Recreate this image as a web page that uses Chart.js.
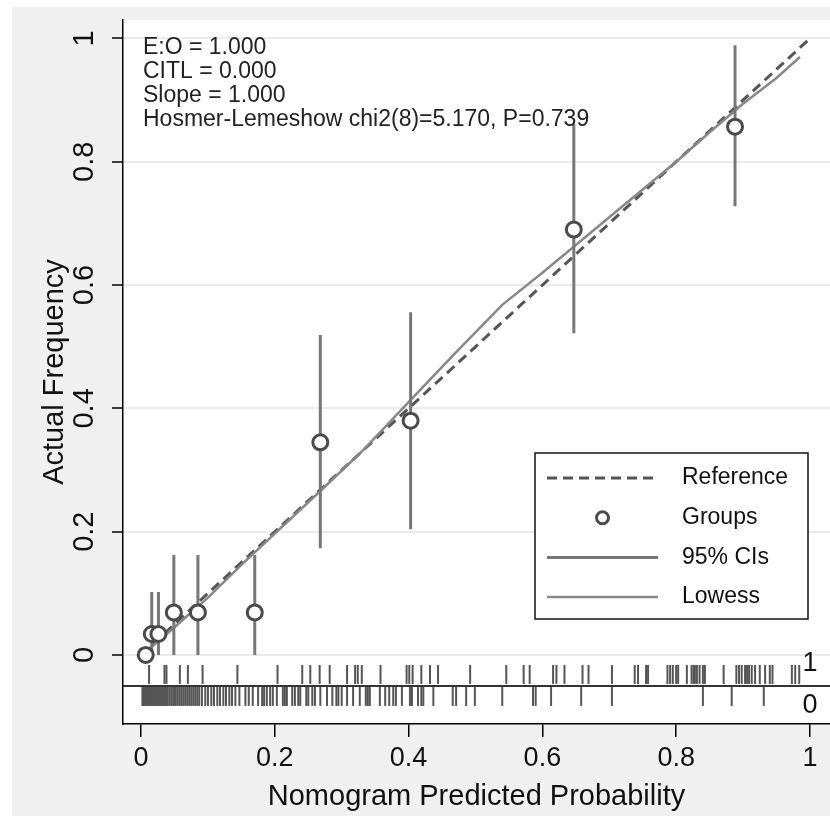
<!DOCTYPE html>
<html lang="en">
<head>
<meta charset="UTF-8" />
<title>Calibration plot</title>
<script src="https://cdn.jsdelivr.net/npm/chart.js"></script>
<style>
  html, body { margin: 0; padding: 0; background: #fff; }
  #wrap { width: 830px; height: 816px; }
</style>
</head>
<body>
<div id="wrap"><canvas id="calib" width="830" height="816"></canvas></div>
<script>
// grouped observed vs predicted, with 95% CIs
const groupPred = [0.007, 0.016, 0.026, 0.049, 0.085, 0.170, 0.268, 0.403, 0.647, 0.888];
const groupObs  = [0.000, 0.034, 0.034, 0.069, 0.069, 0.069, 0.345, 0.380, 0.690, 0.857];
const ciLower   = [0.000, 0.000, 0.000, 0.000, 0.000, 0.000, 0.173, 0.204, 0.522, 0.728];
const ciUpper   = [0.000, 0.102, 0.102, 0.162, 0.162, 0.162, 0.519, 0.556, 0.861, 0.989];

// lowess smoother
const lowessX = [0.006, 0.05, 0.10, 0.15, 0.20, 0.27, 0.33, 0.40, 0.47, 0.54, 0.60, 0.65, 0.70, 0.75, 0.80, 0.85, 0.90, 0.95, 0.985];
const lowessY = [0.004, 0.045, 0.093, 0.146, 0.197, 0.268, 0.330, 0.410, 0.490, 0.568, 0.620, 0.665, 0.710, 0.755, 0.800, 0.848, 0.894, 0.936, 0.970];

// reference diagonal
const refX = [0, 1];
const refY = [0, 1];

// rug: predicted probabilities of outcome = 1 and outcome = 0
const rugOnes = [0.012, 0.035, 0.038, 0.058, 0.070, 0.092, 0.144, 0.204, 0.241, 0.253, 0.267, 0.282, 0.308, 0.320,
  0.324, 0.330, 0.358, 0.397, 0.401, 0.406, 0.419, 0.432, 0.444, 0.492, 0.546, 0.572, 0.581, 0.616, 0.621, 0.633,
  0.660, 0.669, 0.704, 0.738, 0.743, 0.755, 0.758, 0.787, 0.791, 0.795, 0.800, 0.803, 0.816, 0.823, 0.826, 0.828,
  0.831, 0.835, 0.840, 0.843, 0.871, 0.890, 0.894, 0.898, 0.903, 0.906, 0.909, 0.913, 0.918, 0.925, 0.933, 0.940,
  0.944, 0.973, 0.978, 0.984];
const rugZeros = [0.002, 0.003, 0.005, 0.006, 0.008, 0.009, 0.011, 0.012, 0.014, 0.015, 0.016, 0.018, 0.019, 0.021,
  0.022, 0.024, 0.025, 0.027, 0.028, 0.030, 0.031, 0.033, 0.034, 0.036, 0.037, 0.039, 0.040, 0.043, 0.046, 0.049,
  0.051, 0.054, 0.057, 0.060, 0.063, 0.066, 0.069, 0.072, 0.075, 0.078, 0.081, 0.084, 0.087, 0.091, 0.096, 0.100,
  0.105, 0.109, 0.114, 0.118, 0.123, 0.127, 0.132, 0.136, 0.141, 0.147, 0.156, 0.161, 0.167, 0.175, 0.181, 0.184,
  0.188, 0.193, 0.197, 0.203, 0.212, 0.215, 0.218, 0.226, 0.230, 0.235, 0.238, 0.247, 0.250, 0.256, 0.260, 0.268,
  0.278, 0.286, 0.292, 0.295, 0.300, 0.308, 0.317, 0.327, 0.336, 0.339, 0.342, 0.357, 0.365, 0.371, 0.377, 0.381,
  0.390, 0.402, 0.405, 0.414, 0.419, 0.422, 0.437, 0.466, 0.471, 0.486, 0.499, 0.540, 0.586, 0.590, 0.613, 0.658,
  0.704, 0.840, 0.883, 0.931];

const xTicks = [0, 0.2, 0.4, 0.6, 0.8, 1];
const yTicks = [0, 0.2, 0.4, 0.6, 0.8, 1];
const statsLines = ['E:O = 1.000', 'CITL = 0.000', 'Slope = 1.000', 'Hosmer-Lemeshow chi2(8)=5.170, P=0.739'];
const legendLabels = ['Reference', 'Groups', '95% CIs', 'Lowess'];
const rugLabels = ['1', '0'];

const FONT = "'Liberation Sans', Arial, sans-serif";
const RUG_ONE_Y = -0.0316, RUG_ZERO_Y = -0.0673, RUG_BASE_Y = -0.0502;
const X_MIN = -0.027, X_MAX = 1.03;

// CI segments, broken with null so each group gets its own vertical bar
const ciData = [];
groupPred.forEach((x, i) => {
  if (ciUpper[i] > ciLower[i]) {
    ciData.push({x, y: ciLower[i]}, {x, y: ciUpper[i]}, {x, y: null});
  }
});

const bgPlugin = {
  id: 'bg',
  beforeDraw(chart) {
    const {ctx, chartArea: a} = chart;
    ctx.save();
    ctx.fillStyle = '#fff';
    ctx.fillRect(0, 0, chart.width, chart.height);
    ctx.fillStyle = '#f0f0f0';
    ctx.fillRect(12, 7, chart.width - 12, chart.height - 7);
    ctx.fillStyle = '#fff';
    ctx.fillRect(a.left, a.top, a.right - a.left, a.bottom - a.top);
    ctx.restore();
  }
};

const annotPlugin = {
  id: 'annot',
  afterDatasetsDraw(chart) {
    const {ctx, chartArea: a, scales: {y}} = chart;
    ctx.save();
    // stats text
    ctx.font = '23px ' + FONT;
    ctx.fillStyle = '#222';
    ctx.textBaseline = 'middle';
    ctx.textAlign = 'left';
    statsLines.forEach((t, i) => ctx.fillText(t, a.left + 20, a.top + 28 + i * 23.8));

    // rug labels at right
    ctx.font = '27px ' + FONT;
    ctx.fillStyle = '#111';
    ctx.textAlign = 'center';
    ctx.fillText(rugLabels[0], a.right - 20, y.getPixelForValue(RUG_ONE_Y) - 11);
    ctx.fillText(rugLabels[1], a.right - 20, y.getPixelForValue(RUG_ZERO_Y) + 9);

    // legend box
    const bx = a.right - 295, by = a.top + 433, bw = 273, bh = 166;
    ctx.fillStyle = '#fff';
    ctx.fillRect(bx, by, bw, bh);
    ctx.strokeStyle = '#111';
    ctx.lineWidth = 1.5;
    ctx.strokeRect(bx, by, bw, bh);
    const ds = chart.data.datasets;
    [ds[0], ds[1], ds[2], ds[3]].forEach((d, i) => {
      const ry = by + 25 + i * 39.7;
      const x0 = bx + 12, x1 = bx + 123;
      ctx.save();
      if (d.label === 'Groups') {
        ctx.beginPath();
        ctx.arc((x0 + x1) / 2, ry, 6, 0, Math.PI * 2);
        ctx.strokeStyle = d.pointBorderColor;
        ctx.lineWidth = d.pointBorderWidth;
        ctx.stroke();
      } else {
        ctx.beginPath();
        ctx.setLineDash(d.borderDash || []);
        ctx.strokeStyle = d.borderColor;
        ctx.lineWidth = d.borderWidth;
        ctx.moveTo(x0, ry);
        ctx.lineTo(x1, ry);
        ctx.stroke();
      }
      ctx.restore();
      ctx.font = '23px ' + FONT;
      ctx.fillStyle = '#111';
      ctx.textAlign = 'left';
      ctx.textBaseline = 'middle';
      ctx.fillText(legendLabels[i], bx + 147, ry);
    });
    ctx.restore();
  }
};

new Chart(document.getElementById('calib'), {
  type: 'scatter',
  data: {
    datasets: [
      {
        label: legendLabels[0],
        data: refX.map((x, i) => ({x, y: refY[i]})),
        showLine: true, borderColor: '#555', borderWidth: 3, borderDash: [10, 6],
        pointRadius: 0, order: 3
      },
      {
        label: legendLabels[1],
        data: groupPred.map((x, i) => ({x, y: groupObs[i]})),
        showLine: false, pointRadius: 7.5, pointBorderWidth: 3,
        pointBorderColor: '#4a4a4a', pointBackgroundColor: '#fff', order: 0
      },
      {
        label: legendLabels[2],
        data: ciData,
        showLine: true, spanGaps: false, borderColor: '#777', borderWidth: 3,
        pointRadius: 0, order: 1
      },
      {
        label: legendLabels[3],
        data: lowessX.map((x, i) => ({x, y: lowessY[i]})),
        showLine: true, borderColor: '#888', borderWidth: 2.5, pointRadius: 0, order: 2
      },
      {
        label: 'rug base',
        data: [{x: X_MIN, y: RUG_BASE_Y}, {x: X_MAX, y: RUG_BASE_Y}],
        showLine: true, borderColor: '#333', borderWidth: 2, pointRadius: 0, order: 5
      },
      {
        label: 'rug 1',
        data: rugOnes.map(x => ({x, y: RUG_ONE_Y})),
        pointStyle: 'line', pointRotation: 90, pointRadius: 9.5,
        pointBorderWidth: 2, pointBorderColor: '#555', order: 4
      },
      {
        label: 'rug 0',
        data: rugZeros.map(x => ({x, y: RUG_ZERO_Y})),
        pointStyle: 'line', pointRotation: 90, pointRadius: 9.5,
        pointBorderWidth: 2, pointBorderColor: '#555', order: 4
      }
    ]
  },
  options: {
    responsive: false,
    animation: false,
    devicePixelRatio: 1,
    events: [],
    layout: { autoPadding: false, padding: { top: 20, right: 0, bottom: 0, left: 0 } },
    plugins: { legend: { display: false }, tooltip: { enabled: false } },
    scales: {
      x: {
        type: 'linear', min: X_MIN, max: X_MAX,
        afterBuildTicks: ax => { ax.ticks = xTicks.map(v => ({value: v})); },
        afterFit: ax => { ax.height = 92; ax.paddingLeft = 0; ax.paddingRight = 0; },
        grid: { drawOnChartArea: false, color: '#000', lineWidth: 1.5, tickLength: 13 },
        border: { color: '#000', width: 1.5 },
        ticks: { font: { size: 27, family: FONT }, color: '#111', padding: 5, maxRotation: 0,
                 callback: v => String(v) },
        title: { display: true, text: 'Nomogram Predicted Probability', color: '#111',
                 font: { size: 29, family: FONT }, padding: { top: 0, bottom: 2 } }
      },
      y: {
        type: 'linear', min: -0.112, max: 1.03,
        afterBuildTicks: ax => { ax.ticks = yTicks.map(v => ({value: v})); },
        afterFit: ax => { ax.width = 123; ax.paddingTop = 0; ax.paddingBottom = 0; },
        grid: { color: '#ebebeb', lineWidth: 2, tickColor: '#000', tickWidth: 1.5, tickLength: 11 },
        border: { color: '#000', width: 1.5 },
        ticks: { font: { size: 29, family: FONT }, color: '#111', padding: 7,
                 minRotation: 90, maxRotation: 90, crossAlign: 'center',
                 callback: v => String(v) },
        title: { display: true, text: 'Actual Frequency', color: '#111',
                 font: { size: 29, family: FONT }, padding: { top: 38, bottom: 0 } }
      }
    }
  },
  plugins: [bgPlugin, annotPlugin]
});
</script>
</body>
</html>
